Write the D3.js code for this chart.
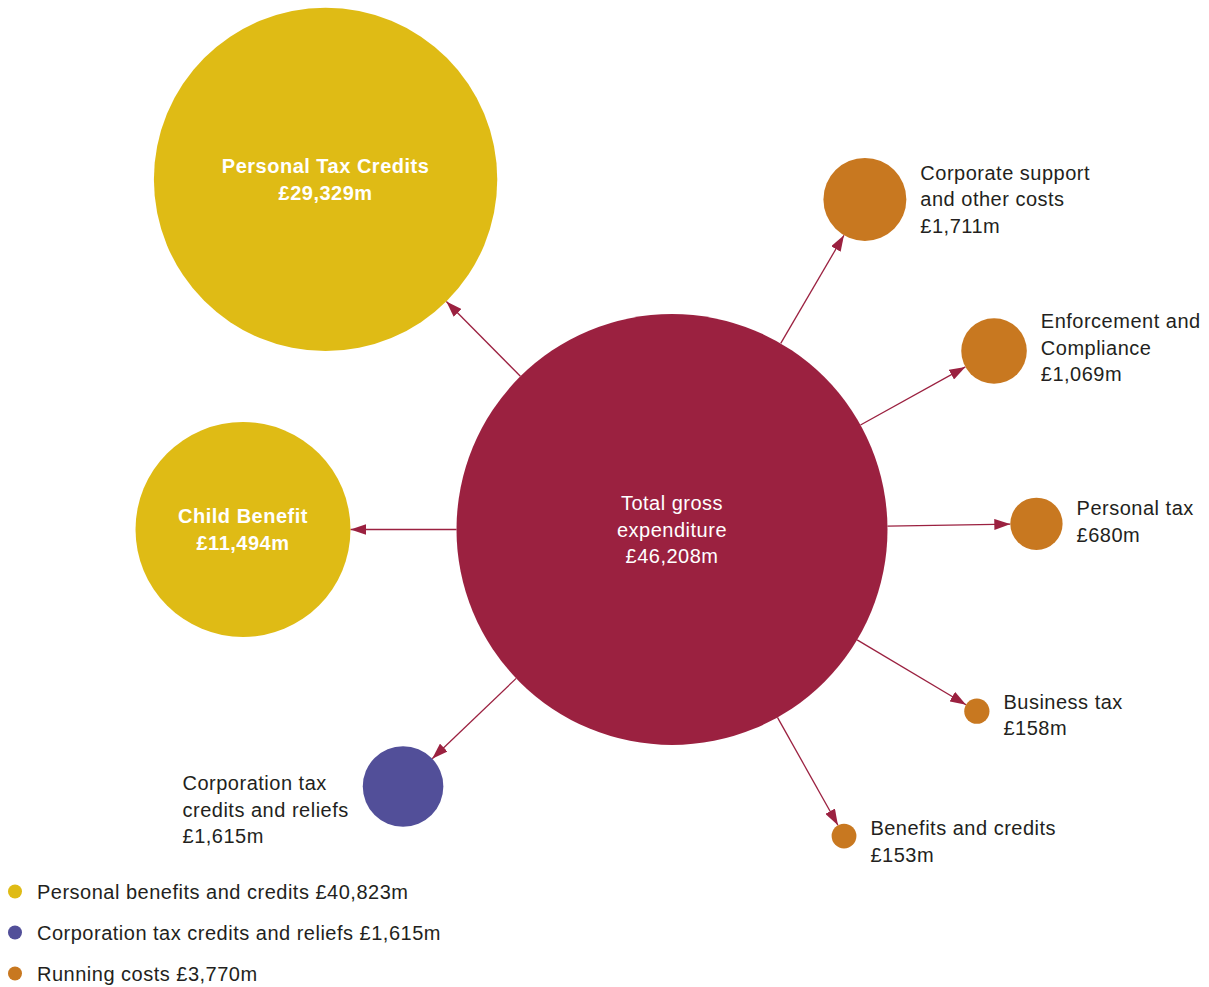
<!DOCTYPE html>
<html>
<head>
<meta charset="utf-8">
<script src="https://cdn.jsdelivr.net/npm/d3@7"></script>
<style>
  html, body { margin: 0; padding: 0; background: #ffffff; }
  svg { display: block; }
  text { font-family: "Liberation Sans", Arial, sans-serif; letter-spacing: 0.5px; }
</style>
</head>
<body>
<svg id="chart" width="1209" height="987"></svg>
<script>
// ---- Data -------------------------------------------------------------
const totalLabel = ["Total gross", "expenditure"];
const totalValue = 46208;

const itemNames = [
  ["Personal Tax Credits"],
  ["Child Benefit"],
  ["Corporation tax", "credits and reliefs"],
  ["Corporate support", "and other costs"],
  ["Enforcement and", "Compliance"],
  ["Personal tax"],
  ["Business tax"],
  ["Benefits and credits"]
];
const itemValues = [29329, 11494, 1615, 1711, 1069, 680, 158, 153];
const itemGroups = ["personal", "personal", "corporation", "running", "running", "running", "running", "running"];

const groupKeys = ["personal", "corporation", "running"];
const groupNames = ["Personal benefits and credits", "Corporation tax credits and reliefs", "Running costs"];
const groupTotals = [40823, 1615, 3770];

// ---- Layout -------------------------------------------------------------
// direction (degrees, clockwise from east) and centre-to-centre distance of each satellite
const itemAngles = [-134.7, 180, 136.3, -59.7, -29.0, -0.9, 30.8, 60.7];
const itemDistances = [492.5, 429, 372, 382.3, 368.2, 364.5, 354.9, 351.5];
// where each label sits: inside the circle, or to one side of it
const itemLabelSide = ["inside", "inside", "left", "right", "right", "right", "right", "right"];
const itemLabelDy = [0, 0, 3.5, -19.5, -22.7, -8.5, -2.7, -1];

const W = 1209, H = 987;
const centre = { x: 672, y: 529.5 };
const maxRadius = 215.5;
const lineHeight = 26.5;
const fontSize = 20;
const labelGap = 14;

const colours = {
  total: "#9b2140",
  personal: "#dfbb15",
  corporation: "#524f99",
  running: "#c87820"
};
const textColour = "#231f20";

const fmt = v => "£" + d3.format(",")(v) + "m";

// ---- Scales -------------------------------------------------------------
const r = d3.scaleSqrt().domain([0, totalValue]).range([0, maxRadius]);
const colour = d3.scaleOrdinal().domain(groupKeys).range(groupKeys.map(k => colours[k]));

const svg = d3.select("#chart");

svg.append("defs").append("marker")
  .attr("id", "arrowhead")
  .attr("viewBox", "0 0 16 11")
  .attr("refX", 16)
  .attr("refY", 5.5)
  .attr("markerWidth", 16)
  .attr("markerHeight", 11)
  .attr("markerUnits", "userSpaceOnUse")
  .attr("orient", "auto")
  .append("path")
  .attr("d", "M0,0 L16,5.5 L0,11 Z")
  .attr("fill", colours.total);

const R = r(totalValue);

const nodes = itemValues.map((v, i) => {
  const a = itemAngles[i] * Math.PI / 180;
  const ux = Math.cos(a), uy = Math.sin(a);
  return {
    name: itemNames[i],
    value: v,
    group: itemGroups[i],
    radius: r(v),
    ux, uy,
    x: centre.x + itemDistances[i] * ux,
    y: centre.y + itemDistances[i] * uy,
    side: itemLabelSide[i],
    dy: itemLabelDy[i]
  };
});

// ---- Arrows -------------------------------------------------------------
svg.append("g").selectAll("line")
  .data(nodes)
  .join("line")
  .attr("x1", d => centre.x + R * d.ux)
  .attr("y1", d => centre.y + R * d.uy)
  .attr("x2", d => d.x - d.radius * d.ux)
  .attr("y2", d => d.y - d.radius * d.uy)
  .attr("stroke", colours.total)
  .attr("stroke-width", 1.3)
  .attr("marker-end", "url(#arrowhead)");

// ---- Circles ------------------------------------------------------------
svg.append("circle")
  .attr("cx", centre.x)
  .attr("cy", centre.y)
  .attr("r", R)
  .attr("fill", colours.total);

svg.append("g").selectAll("circle")
  .data(nodes)
  .join("circle")
  .attr("cx", d => d.x)
  .attr("cy", d => d.y)
  .attr("r", d => d.radius)
  .attr("fill", d => colour(d.group));

// ---- Labels -------------------------------------------------------------
function centredBlock(sel, lines, x, y, fill, weight) {
  const t = sel.append("text")
    .attr("x", x)
    .attr("y", y)
    .attr("text-anchor", "middle")
    .attr("font-size", fontSize)
    .attr("font-weight", weight)
    .attr("fill", fill);
  const first = -(lines.length - 1) / 2 * lineHeight + fontSize * 0.35;
  lines.forEach((ln, j) => {
    t.append("tspan")
      .attr("x", x)
      .attr("y", y + first + j * lineHeight)
      .text(ln);
  });
}

const labels = svg.append("g");

centredBlock(labels, totalLabel.concat([fmt(totalValue)]), centre.x, centre.y, "#ffffff", 400);

nodes.forEach(d => {
  const lines = d.name.concat([fmt(d.value)]);
  if (d.side === "inside") {
    centredBlock(labels, lines, d.x, d.y, "#ffffff", 700);
  } else {
    // side labels are left-aligned blocks; a block on the left ends just short of its circle
    const t = labels.append("text")
      .attr("text-anchor", "start")
      .attr("font-size", fontSize)
      .attr("fill", textColour);
    const spans = lines.map((ln, j) => t.append("tspan")
      .attr("y", d.y + d.dy + j * lineHeight)
      .text(ln));
    let x;
    if (d.side === "right") {
      x = d.x + d.radius + labelGap;
    } else {
      const widest = d3.max(spans, s => s.node().getComputedTextLength());
      x = d.x - d.radius - labelGap - widest;
    }
    spans.forEach(s => s.attr("x", x));
  }
});

// ---- Legend -------------------------------------------------------------
const legend = svg.append("g").attr("transform", "translate(15, 891.5)");
const legendItems = legend.selectAll("g")
  .data(groupKeys)
  .join("g")
  .attr("transform", (d, i) => `translate(0, ${i * 41})`);

legendItems.append("circle")
  .attr("r", 7)
  .attr("fill", d => colour(d));

legendItems.append("text")
  .attr("x", 22)
  .attr("y", 7)
  .attr("font-size", fontSize)
  .attr("fill", textColour)
  .text((d, i) => groupNames[i] + " " + fmt(groupTotals[i]));
</script>
</body>
</html>
